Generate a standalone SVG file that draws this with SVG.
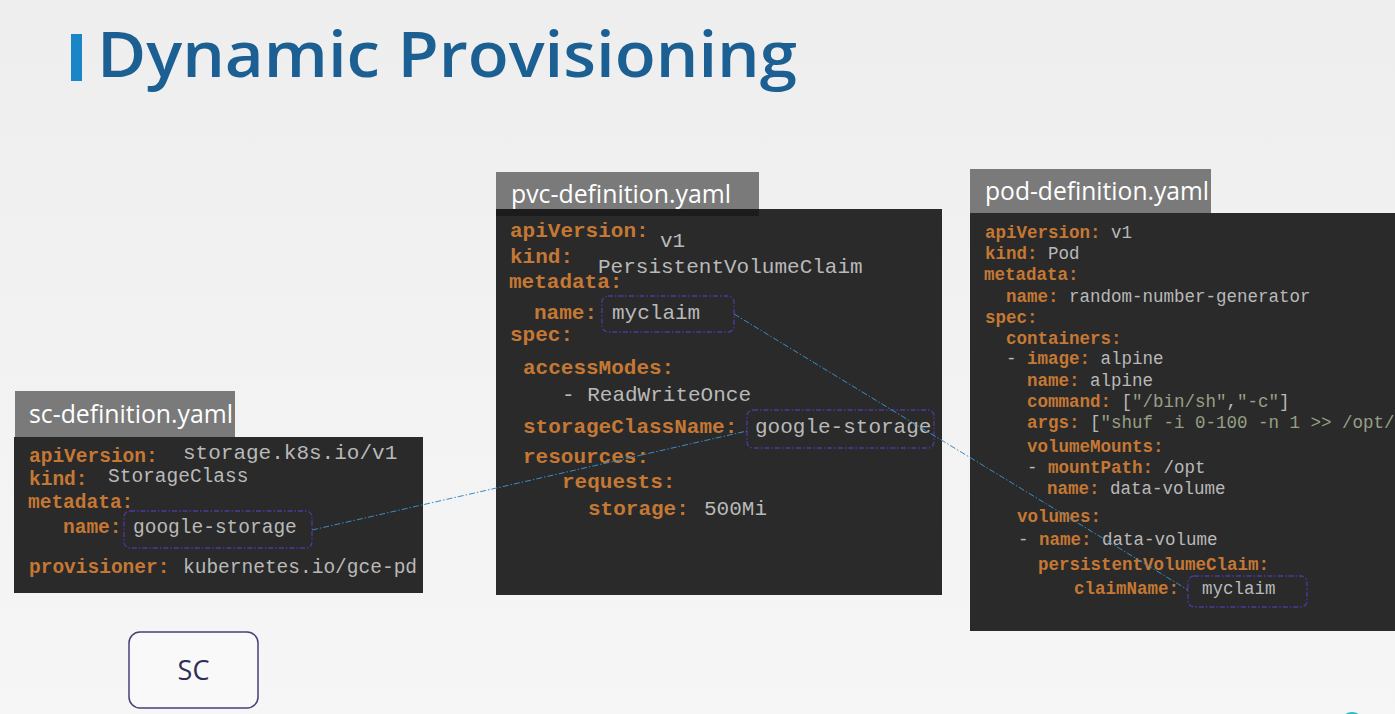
<svg xmlns="http://www.w3.org/2000/svg" width="1395" height="714" viewBox="0 0 1395 714">
<defs>
<linearGradient id="bg" x1="0" y1="0" x2="0" y2="1">
<stop offset="0" stop-color="#eeeeee"/>
<stop offset="1" stop-color="#f6f6f6"/>
</linearGradient>
</defs>
<style>
.tab{fill:#7a7a7a}
.code{fill:#2a2a2a}
.tabt{font-family:"Open Sans","Noto Sans",sans-serif;fill:#ffffff;font-size:25px}
.k{font-family:"Liberation Mono","DejaVu Sans Mono",monospace;font-weight:bold;fill:#c57834}
.v{font-family:"Liberation Mono","DejaVu Sans Mono",monospace;fill:#b9b9b9}
.s{fill:#96a086}
.sc{font-size:19.5px}
.pvc{font-size:21px}
.pod{font-size:17.5px}
.hl{fill:none;stroke:#4b3a9e;stroke-width:1.3;stroke-dasharray:5 2 1.5 2}
.conn{fill:none;stroke:#3a8cc4;stroke-width:1;stroke-dasharray:6 2 1.5 2}
</style>
<rect x="0" y="0" width="1395" height="714" fill="url(#bg)"/>

<g id="title">
<rect x="71" y="34" width="11" height="47" fill="#1a86c8"/>
<text x="97" y="77" font-family="'Open Sans','Noto Sans',sans-serif" font-size="63" font-weight="600" fill="#1b5f93" textLength="700" lengthAdjust="spacingAndGlyphs">Dynamic Provisioning</text>
</g>

<g id="sc-definition">
<rect class="tab" x="15" y="391" width="220" height="46"/>
<text class="tabt" x="29" y="423" textLength="204" lengthAdjust="spacingAndGlyphs">sc-definition.yaml</text>
<rect class="code" x="14" y="437" width="409" height="156"/>
<text class="k sc" x="29" y="462">apiVersion:</text>
<text class="v" x="183" y="459" font-size="21">storage.k8s.io/v1</text>
<text class="k sc" x="29" y="485">kind:</text>
<text class="v sc" x="108" y="482">StorageClass</text>
<text class="k sc" x="28" y="508">metadata:</text>
<text class="k sc" x="63" y="533">name:</text>
<text class="v sc" x="133" y="533">google-storage</text>
<rect class="hl" x="124" y="511" width="188" height="37" rx="6"/>
<text class="k sc" x="29" y="573">provisioner:</text>
<text class="v sc" x="183" y="573">kubernetes.io/gce-pd</text>
</g>

<g id="pvc-definition">
<rect class="tab" x="496" y="172" width="263" height="46"/>
<rect x="496" y="209" width="263" height="9" fill="#1c1c1c"/>
<rect class="code" x="496" y="216" width="446" height="379"/>
<rect class="code" x="759" y="209" width="183" height="8"/>
<text class="tabt" x="511" y="203" textLength="220" lengthAdjust="spacingAndGlyphs">pvc-definition.yaml</text>
<text class="k pvc" x="510" y="237">apiVersion:</text>
<text class="v pvc" x="660" y="247">v1</text>
<text class="k pvc" x="510" y="263">kind:</text>
<text class="v pvc" x="598" y="273">PersistentVolumeClaim</text>
<text class="k pvc" x="509" y="288">metadata:</text>
<text class="k pvc" x="534" y="319">name:</text>
<text class="v pvc" x="612" y="319">myclaim</text>
<rect class="hl" x="602" y="296" width="132" height="36" rx="6"/>
<text class="k pvc" x="510" y="341">spec:</text>
<text class="k pvc" x="523" y="374">accessModes:</text>
<text class="v pvc" x="562" y="401">- ReadWriteOnce</text>
<text class="k pvc" x="523" y="433">storageClassName:</text>
<text class="v pvc" x="755" y="433">google-storage</text>
<rect class="hl" x="747" y="410" width="187" height="38" rx="6"/>
<text class="k pvc" x="523" y="463">resources:</text>
<text class="k pvc" x="562" y="488">requests:</text>
<text class="k pvc" x="588" y="515">storage:</text>
<text class="v pvc" x="704" y="515">500Mi</text>
</g>

<g id="pod-definition">
<rect class="tab" x="970" y="169" width="241" height="44"/>
<rect class="code" x="970" y="213" width="425" height="418"/>
<text class="tabt" x="985" y="200" textLength="224" lengthAdjust="spacingAndGlyphs">pod-definition.yaml</text>
<text class="pod" x="985" y="238"><tspan class="k">apiVersion:</tspan><tspan class="v"> v1</tspan></text>
<text class="pod" x="985" y="259"><tspan class="k">kind:</tspan><tspan class="v"> Pod</tspan></text>
<text class="pod k" x="984" y="280">metadata:</text>
<text class="pod" x="1006" y="302"><tspan class="k">name:</tspan><tspan class="v"> random-number-generator</tspan></text>
<text class="pod k" x="985" y="323">spec:</text>
<text class="pod k" x="1006" y="344">containers:</text>
<text class="pod" x="1006" y="364"><tspan class="v">- </tspan><tspan class="k">image:</tspan><tspan class="v"> alpine</tspan></text>
<text class="pod" x="1027" y="386"><tspan class="k">name:</tspan><tspan class="v"> alpine</tspan></text>
<text class="pod" x="1027" y="407"><tspan class="k">command:</tspan><tspan class="v"> [</tspan><tspan class="v s">"/bin/sh"</tspan><tspan class="v">,</tspan><tspan class="v s">"-c"</tspan><tspan class="v">]</tspan></text>
<text class="pod" x="1027" y="428"><tspan class="k">args:</tspan><tspan class="v"> [</tspan><tspan class="v s">"shuf -i 0-100 -n 1 &gt;&gt; /opt/</tspan></text>
<text class="pod k" x="1027" y="452">volumeMounts:</text>
<text class="pod" x="1027" y="473"><tspan class="v">- </tspan><tspan class="k">mountPath:</tspan><tspan class="v"> /opt</tspan></text>
<text class="pod" x="1047" y="494"><tspan class="k">name:</tspan><tspan class="v"> data-volume</tspan></text>
<text class="pod k" x="1017" y="522">volumes:</text>
<text class="pod" x="1018" y="545"><tspan class="v">- </tspan><tspan class="k">name:</tspan><tspan class="v"> data-volume</tspan></text>
<text class="pod k" x="1038" y="570">persistentVolumeClaim:</text>
<text class="pod k" x="1074" y="594">claimName:</text>
<text class="pod v" x="1202" y="594">myclaim</text>
<rect class="hl" x="1188" y="576" width="119" height="31" rx="6"/>
</g>

<g id="sc-node">
<rect x="129" y="632" width="129" height="76" rx="11" fill="#f9f9f9" stroke="#4a3f7a" stroke-width="1.5"/>
<text x="193.5" y="680" text-anchor="middle" font-family="'Open Sans','Noto Sans',sans-serif" font-size="27" fill="#2f2f55">SC</text>
</g>

<g id="connectors">
<line class="conn" x1="312" y1="530" x2="747" y2="431"/>
<line class="conn" x1="734" y1="314" x2="1188" y2="590"/>
</g>

<g id="corner">
<circle cx="1352" cy="724" r="12" fill="#2db8c8"/>
</g>
</svg>
